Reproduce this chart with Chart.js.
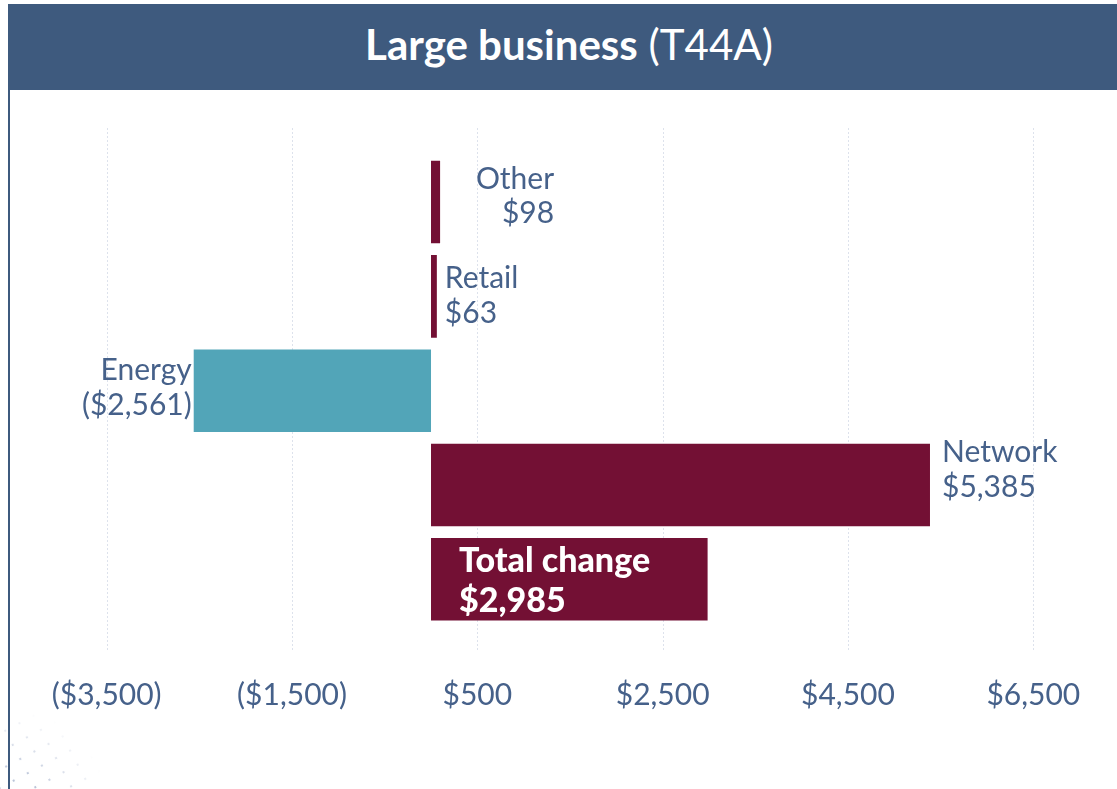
<!DOCTYPE html>
<html><head><meta charset="utf-8">
<script src="https://cdn.jsdelivr.net/npm/chart.js@4.4.1/dist/chart.umd.min.js"></script>
<style>
html,body{margin:0;padding:0;background:#fff;width:1117px;height:789px;overflow:hidden;font-family:Lato,sans-serif}
#hdr{position:absolute;left:8px;top:4px;width:1109px;height:86px;background:#3e5a7e;color:#fff;font-size:42px;display:flex;align-items:center;justify-content:center;box-sizing:border-box;padding-left:13px;padding-bottom:6px;white-space:pre}
#hdr b{font-weight:700}
#hdr span{font-weight:400}
#lb{position:absolute;left:8px;top:90px;width:2px;height:699px;background:#3e5a7e}
#dots{position:absolute;left:-40px;top:700px;width:160px;height:140px;transform:rotate(-28deg);transform-origin:40px 89px;
  background-image:radial-gradient(circle,#aab6cf 1px,transparent 1.6px);background-size:16px 16px;
  -webkit-mask-image:radial-gradient(circle at 40px 110px,#000 20%,transparent 60%);mask-image:radial-gradient(circle at 40px 110px,#000 20%,transparent 60%);opacity:.8}
#c{position:absolute;left:0;top:0}
</style></head>
<body>
<div id="hdr"><b>Large business</b><span> (T44A)</span></div>
<div id="dots"></div>
<div id="lb"></div>
<canvas id="c" width="1117" height="789"></canvas>
<script>
// ---- data ----
const categories = ['Other', 'Retail', 'Energy', 'Network', 'Total change'];
const values = [98, 63, -2561, 5385, 2985];
const xTickValues = [-3500, -1500, 500, 2500, 4500, 6500];

// ---- helpers / styles ----
const MAROON = '#731034', TEAL = '#52a5b8', TXT = '#46618a';
function money(v) {
  const s = '$' + Math.abs(v).toLocaleString('en-US');
  return v < 0 ? '(' + s + ')' : s;
}
// label placement relative to bar (style, not data)
const labelLayout = [
  {from: 'end', dx: 114, align: 'right', lines: [-13, 21], font: '400 30px Lato', color: TXT},
  {from: 'end', dx: 8, align: 'left', lines: [-8, 27], font: '400 30px Lato', color: TXT},
  {from: 'end', dx: -2, align: 'right', lines: [-11, 24], font: '400 30px Lato', color: TXT},
  {from: 'end', dx: 12, align: 'left', lines: [-23, 12], font: '400 30px Lato', color: TXT},
  {from: 'base', dx: 28, align: 'left', lines: [-7, 33], font: '900 34px Lato', color: '#ffffff'}
];

const gridPlugin = {
  id: 'dotgrid',
  beforeDatasetsDraw(chart) {
    const sx = chart.scales.x, ctx = chart.ctx;
    ctx.save();
    ctx.strokeStyle = '#dde2ec';
    ctx.lineWidth = 1;
    ctx.setLineDash([2, 2]);
    sx.ticks.forEach(t => {
      const px = Math.round(sx.getPixelForValue(t.value)) + 0.5;
      ctx.beginPath();
      ctx.moveTo(px, 128);
      ctx.lineTo(px, 652);
      ctx.stroke();
    });
    ctx.restore();
  }
};

const labelPlugin = {
  id: 'barlabels',
  afterDatasetsDraw(chart) {
    const meta = chart.getDatasetMeta(0), ctx = chart.ctx;
    ctx.save();
    meta.data.forEach((bar, i) => {
      const L = labelLayout[i];
      const p = bar.getProps(['x', 'y', 'base'], true);
      const x0 = (L.from === 'base' ? p.base : p.x) + L.dx;
      ctx.font = L.font;
      ctx.fillStyle = L.color;
      ctx.textAlign = L.align;
      ctx.textBaseline = 'alphabetic';
      const txt = [categories[i], money(values[i])];
      txt.forEach((t, k) => ctx.fillText(t, x0, p.y + L.lines[k]));
    });
    ctx.restore();
  }
};

new Chart(document.getElementById('c'), {
  type: 'bar',
  data: {
    labels: categories,
    datasets: [{
      data: values,
      backgroundColor: values.map(v => v < 0 ? TEAL : MAROON),
      borderWidth: 0,
      barPercentage: 1,
      categoryPercentage: 0.875
    }]
  },
  options: {
    indexAxis: 'y',
    responsive: false,
    animation: false,
    devicePixelRatio: 1,
    layout: {padding: {left: 106.7, right: 83.7, top: 154.9, bottom: 33.5}},
    plugins: {legend: {display: false}, tooltip: {enabled: false}},
    scales: {
      y: {display: false},
      x: {
        min: -3500, max: 6500,
        afterBuildTicks(s) { s.ticks = xTickValues.map(v => ({value: v})); },
        afterFit(s) { s.paddingLeft = 0; s.paddingRight = 0; },
        grid: {display: false},
        border: {display: false},
        ticks: {
          padding: 42.5,
          color: TXT,
          font: {family: 'Lato', size: 30},
          maxRotation: 0,
          autoSkip: false,
          callback: v => money(v)
        }
      }
    }
  },
  plugins: [gridPlugin, labelPlugin]
});
</script>
</body></html>
